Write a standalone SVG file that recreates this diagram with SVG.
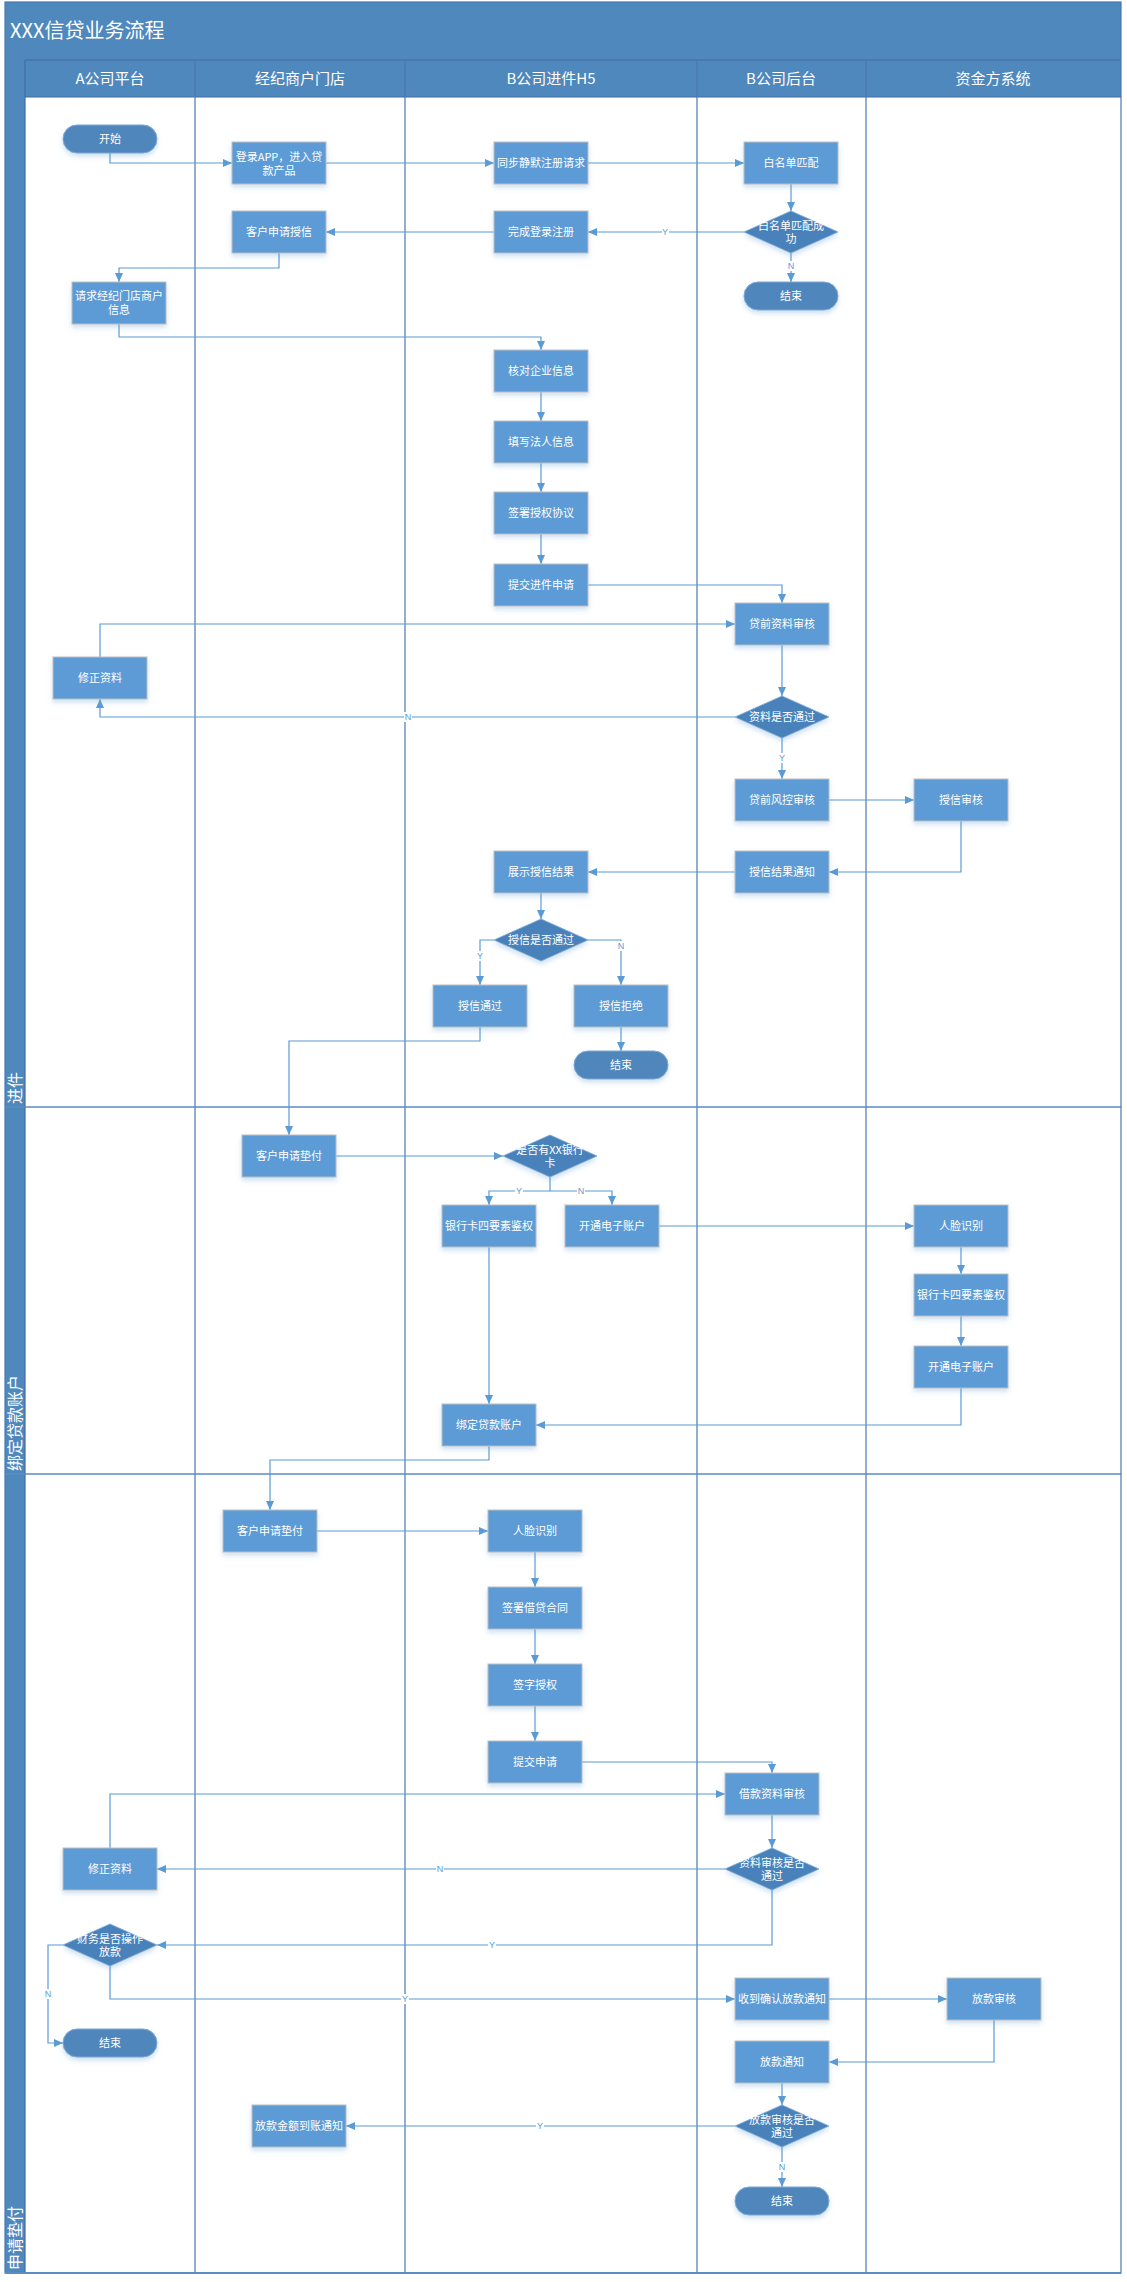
<svg xmlns="http://www.w3.org/2000/svg" width="1127" height="2282" viewBox="0 0 1127 2282">
<style>
.frame{fill:none;stroke:#4A78B0;stroke-width:1.2}
.sep{stroke:#4A78B0;stroke-width:1.2}
.hsep{stroke:#3F6DA3;stroke-width:1.2}
.lane{stroke:#5A8CC4;stroke-width:1.5}
.bar{fill:#4F88BD}
.title{font-family:"Noto Sans CJK SC","Noto Sans",sans-serif;font-size:20px;fill:#fff}
.head{font-family:"Noto Sans CJK SC","Noto Sans",sans-serif;font-size:15px;fill:#fff;text-anchor:middle}
.lanet{font-family:"Noto Sans CJK SC","Noto Sans",sans-serif;font-size:16px;fill:#fff}
.r{fill:#5B9BD5;stroke:#BFBFBF;stroke-width:1;filter:url(#sh)}
.t{fill:#4F86BC;stroke:#7FA8D2;stroke-width:1;filter:url(#sh)}
.d{fill:#4A82BB;stroke:#7FA8D2;stroke-width:0.8;filter:url(#sh)}
.tx{font-family:"Noto Sans CJK SC","Noto Sans",sans-serif;font-size:11px;fill:#fff;text-anchor:middle}
.c{fill:none;stroke:#5B9BD5;stroke-width:1.2;marker-end:url(#ah)}
.lb{font-family:"Liberation Sans","Noto Sans",sans-serif;font-size:9px;fill:#5B9BD5;text-anchor:middle}
.lbb{fill:#fff}
</style>
<defs>
<marker id="ah" markerUnits="userSpaceOnUse" markerWidth="10" markerHeight="10" refX="9" refY="4" orient="auto">
<path d="M0,0 L9,4 L0,8 z" fill="#5B9BD5"/>
</marker>
<filter id="sh" x="-20%" y="-20%" width="140%" height="160%">
<feDropShadow dx="0" dy="3" stdDeviation="2.5" flood-color="#5B9BD5" flood-opacity="0.3"/>
</filter>
</defs>
<rect x="0" y="0" width="1127" height="2282" fill="#fff"/>
<!-- frame / pool -->
<g id="pool">
<rect class="bar" x="5" y="2" width="1116" height="95"/>
<rect class="bar" x="5" y="97" width="20" height="2176"/>
<line class="hsep" x1="25" y1="60" x2="1121" y2="60"/>
<line class="hsep" x1="25" y1="97" x2="1121" y2="97"/>
<line class="hsep" x1="25" y1="60" x2="25" y2="2273"/>
<line class="sep" x1="195" y1="60" x2="195" y2="2273"/>
<line class="sep" x1="405" y1="60" x2="405" y2="2273"/>
<line class="sep" x1="697" y1="60" x2="697" y2="2273"/>
<line class="sep" x1="866" y1="60" x2="866" y2="2273"/>
<line class="lane" x1="5" y1="1107" x2="1121" y2="1107"/>
<line class="lane" x1="5" y1="1474" x2="1121" y2="1474"/>
<rect class="frame" x="5" y="2" width="1116" height="2271"/>
<line x1="5" y1="2273" x2="1121" y2="2273" stroke="#5A8CC4" stroke-width="2"/>
<text class="title" x="10" y="38">XXX信贷业务流程</text>
<text class="head" x="110" y="84">A公司平台</text>
<text class="head" x="300" y="84">经纪商户门店</text>
<text class="head" x="551" y="84">B公司进件H5</text>
<text class="head" x="781" y="84">B公司后台</text>
<text class="head" x="993" y="84">资金方系统</text>
<text class="lanet" transform="translate(21,1104) rotate(-90)">进件</text>
<text class="lanet" transform="translate(21,1471) rotate(-90)">绑定贷款账户</text>
<text class="lanet" transform="translate(21,2270) rotate(-90)">申请垫付</text>
</g>
<!-- connectors -->
<g id="connectors">
<path class="c" d="M110,153 V163 H232"/>
<path class="c" d="M326,163 H494"/>
<path class="c" d="M588,163 H744"/>
<path class="c" d="M791,184 V211"/>
<path class="c" d="M744,232 H588"/>
<path class="c" d="M791,253 V282"/>
<path class="c" d="M494,232 H326"/>
<path class="c" d="M279,253 V268 H119 V282"/>
<path class="c" d="M119,324 V337 H541 V350"/>
<path class="c" d="M541,392 V421"/>
<path class="c" d="M541,463 V492"/>
<path class="c" d="M541,534 V564"/>
<path class="c" d="M588,585 H782 V603"/>
<path class="c" d="M100,657 V624 H735"/>
<path class="c" d="M782,645 V696"/>
<path class="c" d="M735,717 H100 V699"/>
<path class="c" d="M782,738 V779"/>
<path class="c" d="M829,800 H914"/>
<path class="c" d="M961,821 V872 H829"/>
<path class="c" d="M735,872 H588"/>
<path class="c" d="M541,893 V919"/>
<path class="c" d="M494,940 H480 V985"/>
<path class="c" d="M588,940 H621 V985"/>
<path class="c" d="M621,1027 V1051"/>
<path class="c" d="M480,1027 V1041 H289 V1135"/>
<path class="c" d="M336,1156 H503"/>
<path class="c" d="M550,1177 V1191 H489 V1205"/>
<path class="c" d="M550,1191 H612 V1205"/>
<path class="c" d="M659,1226 H914"/>
<path class="c" d="M961,1247 V1274"/>
<path class="c" d="M961,1316 V1346"/>
<path class="c" d="M489,1247 V1404"/>
<path class="c" d="M961,1388 V1425 H536"/>
<path class="c" d="M489,1446 V1460 H270 V1510"/>
<path class="c" d="M317,1531 H488"/>
<path class="c" d="M535,1552 V1587"/>
<path class="c" d="M535,1629 V1664"/>
<path class="c" d="M535,1706 V1741"/>
<path class="c" d="M582,1762 H772 V1773"/>
<path class="c" d="M110,1848 V1794 H725"/>
<path class="c" d="M772,1815 V1848"/>
<path class="c" d="M725,1869 H157"/>
<path class="c" d="M772,1890 V1945 H157"/>
<path class="c" d="M63,1945 H48 V2043 H63"/>
<path class="c" d="M110,1966 V1999 H735"/>
<path class="c" d="M829,1999 H947"/>
<path class="c" d="M994,2020 V2062 H829"/>
<path class="c" d="M782,2083 V2105"/>
<path class="c" d="M735,2126 H346"/>
<path class="c" d="M782,2147 V2187"/>
<g id="labels">
<rect class="lbb" x="662" y="227" width="7" height="10"/><text class="lb" x="665" y="235">Y</text>
<rect class="lbb" x="787" y="261" width="8" height="10"/><text class="lb" x="791" y="269">N</text>
<rect class="lbb" x="404" y="712" width="8" height="10"/><text class="lb" x="408" y="720">N</text>
<rect class="lbb" x="778" y="753" width="8" height="10"/><text class="lb" x="782" y="761">Y</text>
<rect class="lbb" x="476" y="951" width="8" height="10"/><text class="lb" x="480" y="959">Y</text>
<rect class="lbb" x="617" y="941" width="8" height="10"/><text class="lb" x="621" y="949">N</text>
<rect class="lbb" x="515" y="1186" width="8" height="10"/><text class="lb" x="519" y="1194">Y</text>
<rect class="lbb" x="577" y="1186" width="8" height="10"/><text class="lb" x="581" y="1194">N</text>
<rect class="lbb" x="436" y="1864" width="8" height="10"/><text class="lb" x="440" y="1872">N</text>
<rect class="lbb" x="488" y="1940" width="8" height="10"/><text class="lb" x="492" y="1948">Y</text>
<rect class="lbb" x="44" y="1989" width="8" height="10"/><text class="lb" x="48" y="1997">N</text>
<rect class="lbb" x="401" y="1994" width="8" height="10"/><text class="lb" x="405" y="2002">Y</text>
<rect class="lbb" x="536" y="2121" width="8" height="10"/><text class="lb" x="540" y="2129">Y</text>
<rect class="lbb" x="778" y="2162" width="8" height="10"/><text class="lb" x="782" y="2170">N</text>
</g>
</g>
<!-- lane 1 nodes -->
<g id="n_start"><rect class="t" x="63" y="125" width="94" height="28" rx="14"/><text class="tx" x="110" y="143">开始</text></g>
<g id="n_login"><rect class="r" x="232" y="142" width="94" height="42"/><text class="tx" x="279" y="161">登录APP，进入贷</text><text class="tx" x="279" y="175">款产品</text></g>
<g id="n_sync"><rect class="r" x="494" y="142" width="94" height="42"/><text class="tx" x="541" y="167">同步静默注册请求</text></g>
<g id="n_white"><rect class="r" x="744" y="142" width="94" height="42"/><text class="tx" x="791" y="167">白名单匹配</text></g>
<g id="n_whiteok"><polygon class="d" points="791,211 838,232 791,253 744,232"/><text class="tx" x="791" y="230">白名单匹配成</text><text class="tx" x="791" y="243">功</text></g>
<g id="n_regdone"><rect class="r" x="494" y="211" width="94" height="42"/><text class="tx" x="541" y="236">完成登录注册</text></g>
<g id="n_apply"><rect class="r" x="232" y="211" width="94" height="42"/><text class="tx" x="279" y="236">客户申请授信</text></g>
<g id="n_end1"><rect class="t" x="744" y="282" width="94" height="28" rx="14"/><text class="tx" x="791" y="300">结束</text></g>
<g id="n_reqinfo"><rect class="r" x="72" y="282" width="94" height="42"/><text class="tx" x="119" y="300">请求经纪门店商户</text><text class="tx" x="119" y="314">信息</text></g>
<g id="n_checkent"><rect class="r" x="494" y="350" width="94" height="42"/><text class="tx" x="541" y="375">核对企业信息</text></g>
<g id="n_legal"><rect class="r" x="494" y="421" width="94" height="42"/><text class="tx" x="541" y="446">填写法人信息</text></g>
<g id="n_auth"><rect class="r" x="494" y="492" width="94" height="42"/><text class="tx" x="541" y="517">签署授权协议</text></g>
<g id="n_submit"><rect class="r" x="494" y="564" width="94" height="42"/><text class="tx" x="541" y="589">提交进件申请</text></g>
<g id="n_prereview"><rect class="r" x="735" y="603" width="94" height="42"/><text class="tx" x="782" y="628">贷前资料审核</text></g>
<g id="n_fix1"><rect class="r" x="53" y="657" width="94" height="42"/><text class="tx" x="100" y="682">修正资料</text></g>
<g id="n_docok"><polygon class="d" points="782,696 829,717 782,738 735,717"/><text class="tx" x="782" y="721">资料是否通过</text></g>
<g id="n_risk"><rect class="r" x="735" y="779" width="94" height="42"/><text class="tx" x="782" y="804">贷前风控审核</text></g>
<g id="n_credit"><rect class="r" x="914" y="779" width="94" height="42"/><text class="tx" x="961" y="804">授信审核</text></g>
<g id="n_notify"><rect class="r" x="735" y="851" width="94" height="42"/><text class="tx" x="782" y="876">授信结果通知</text></g>
<g id="n_show"><rect class="r" x="494" y="851" width="94" height="42"/><text class="tx" x="541" y="876">展示授信结果</text></g>
<g id="n_creditok"><polygon class="d" points="541,919 588,940 541,961 494,940"/><text class="tx" x="541" y="944">授信是否通过</text></g>
<g id="n_pass"><rect class="r" x="433" y="985" width="94" height="42"/><text class="tx" x="480" y="1010">授信通过</text></g>
<g id="n_reject"><rect class="r" x="574" y="985" width="94" height="42"/><text class="tx" x="621" y="1010">授信拒绝</text></g>
<g id="n_end2"><rect class="t" x="574" y="1051" width="94" height="28" rx="14"/><text class="tx" x="621" y="1069">结束</text></g>
<!-- lane 2 nodes -->
<g id="n_adv1"><rect class="r" x="242" y="1135" width="94" height="42"/><text class="tx" x="289" y="1160">客户申请垫付</text></g>
<g id="n_hascard"><polygon class="d" points="550,1135 597,1156 550,1177 503,1156"/><text class="tx" x="550" y="1154">是否有XX银行</text><text class="tx" x="550" y="1167">卡</text></g>
<g id="n_card4a"><rect class="r" x="442" y="1205" width="94" height="42"/><text class="tx" x="489" y="1230">银行卡四要素鉴权</text></g>
<g id="n_open1"><rect class="r" x="565" y="1205" width="94" height="42"/><text class="tx" x="612" y="1230">开通电子账户</text></g>
<g id="n_face1"><rect class="r" x="914" y="1205" width="94" height="42"/><text class="tx" x="961" y="1230">人脸识别</text></g>
<g id="n_card4b"><rect class="r" x="914" y="1274" width="94" height="42"/><text class="tx" x="961" y="1299">银行卡四要素鉴权</text></g>
<g id="n_open2"><rect class="r" x="914" y="1346" width="94" height="42"/><text class="tx" x="961" y="1371">开通电子账户</text></g>
<g id="n_bind"><rect class="r" x="442" y="1404" width="94" height="42"/><text class="tx" x="489" y="1429">绑定贷款账户</text></g>
<!-- lane 3 nodes -->
<g id="n_adv2"><rect class="r" x="223" y="1510" width="94" height="42"/><text class="tx" x="270" y="1535">客户申请垫付</text></g>
<g id="n_face2"><rect class="r" x="488" y="1510" width="94" height="42"/><text class="tx" x="535" y="1535">人脸识别</text></g>
<g id="n_contract"><rect class="r" x="488" y="1587" width="94" height="42"/><text class="tx" x="535" y="1612">签署借贷合同</text></g>
<g id="n_sign"><rect class="r" x="488" y="1664" width="94" height="42"/><text class="tx" x="535" y="1689">签字授权</text></g>
<g id="n_submit2"><rect class="r" x="488" y="1741" width="94" height="42"/><text class="tx" x="535" y="1766">提交申请</text></g>
<g id="n_loanreview"><rect class="r" x="725" y="1773" width="94" height="42"/><text class="tx" x="772" y="1798">借款资料审核</text></g>
<g id="n_fix2"><rect class="r" x="63" y="1848" width="94" height="42"/><text class="tx" x="110" y="1873">修正资料</text></g>
<g id="n_reviewok"><polygon class="d" points="772,1848 819,1869 772,1890 725,1869"/><text class="tx" x="772" y="1867">资料审核是否</text><text class="tx" x="772" y="1880">通过</text></g>
<g id="n_finance"><polygon class="d" points="110,1924 157,1945 110,1966 63,1945"/><text class="tx" x="110" y="1943">财务是否操作</text><text class="tx" x="110" y="1956">放款</text></g>
<g id="n_end3"><rect class="t" x="63" y="2029" width="94" height="28" rx="14"/><text class="tx" x="110" y="2047">结束</text></g>
<g id="n_recv"><rect class="r" x="735" y="1978" width="94" height="42"/><text class="tx" x="782" y="2003">收到确认放款通知</text></g>
<g id="n_loanaudit"><rect class="r" x="947" y="1978" width="94" height="42"/><text class="tx" x="994" y="2003">放款审核</text></g>
<g id="n_loannotify"><rect class="r" x="735" y="2041" width="94" height="42"/><text class="tx" x="782" y="2066">放款通知</text></g>
<g id="n_loanok"><polygon class="d" points="782,2105 829,2126 782,2147 735,2126"/><text class="tx" x="782" y="2124">放款审核是否</text><text class="tx" x="782" y="2137">通过</text></g>
<g id="n_arrive"><rect class="r" x="252" y="2105" width="94" height="42"/><text class="tx" x="299" y="2130">放款金额到账通知</text></g>
<g id="n_end4"><rect class="t" x="735" y="2187" width="94" height="28" rx="14"/><text class="tx" x="782" y="2205">结束</text></g>
</svg>
